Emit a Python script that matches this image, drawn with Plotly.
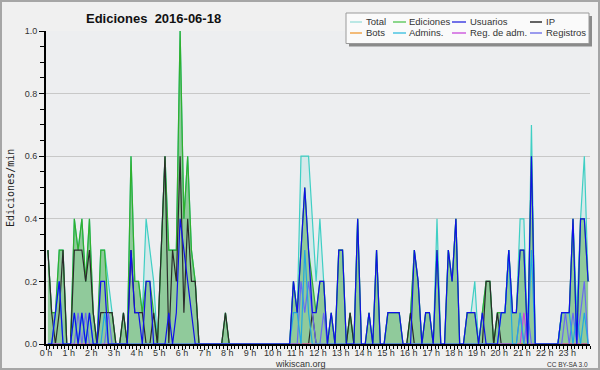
import plotly.graph_objects as go

# ---- data: edits per minute, 10-minute bins (6 per hour, 144 bins) ----
hour_labels = [f"{h} h" for h in range(24)]

total = [
    0.3, 0.1, 0.1, 0.3, 0.3, 0.0,   # 0 h
    0.0, 0.4, 0.3, 0.4, 0.2, 0.4,   # 1 h
    0.1, 0.0, 0.3, 0.3, 0.2, 0.1,   # 2 h
    0.0, 0.0, 0.1, 0.0, 0.6, 0.2,   # 3 h
    0.2, 0.1, 0.4, 0.3, 0.2, 0.0,   # 4 h
    0.3, 0.6, 0.3, 0.3, 0.3, 1.0,   # 5 h
    0.4, 0.6, 0.3, 0.2, 0.0, 0.0,   # 6 h
    0.0, 0.0, 0.0, 0.0, 0.0, 0.1,   # 7 h
    0.0, 0.0, 0.0, 0.0, 0.0, 0.0,   # 8 h
    0.0, 0.0, 0.0, 0.0, 0.0, 0.0,   # 9 h
    0.0, 0.0, 0.0, 0.0, 0.0, 0.2,   # 10 h
    0.1, 0.6, 0.6, 0.6, 0.4, 0.2,   # 11 h
    0.4, 0.2, 0.0, 0.1, 0.0, 0.3,   # 12 h
    0.3, 0.0, 0.1, 0.0, 0.4, 0.0,   # 13 h
    0.0, 0.1, 0.0, 0.3, 0.0, 0.0,   # 14 h
    0.1, 0.1, 0.1, 0.1, 0.0, 0.0,   # 15 h
    0.1, 0.3, 0.2, 0.0, 0.1, 0.1,   # 16 h
    0.0, 0.4, 0.0, 0.0, 0.3, 0.2,   # 17 h
    0.4, 0.0, 0.0, 0.1, 0.1, 0.2,   # 18 h
    0.0, 0.1, 0.2, 0.2, 0.0, 0.1,   # 19 h
    0.1, 0.1, 0.3, 0.1, 0.1, 0.4,   # 20 h
    0.4, 0.0, 0.7, 0.0, 0.0, 0.0,   # 21 h
    0.0, 0.0, 0.0, 0.0, 0.1, 0.1,   # 22 h
    0.1, 0.4, 0.1, 0.4, 0.6, 0.2,   # 23 h
]

ediciones = [
    0.3, 0.1, 0.1, 0.3, 0.3, 0.0,
    0.0, 0.4, 0.3, 0.4, 0.2, 0.4,
    0.1, 0.0, 0.3, 0.3, 0.1, 0.1,
    0.0, 0.0, 0.1, 0.0, 0.6, 0.2,
    0.2, 0.1, 0.2, 0.2, 0.1, 0.0,
    0.3, 0.6, 0.3, 0.3, 0.3, 1.0,
    0.4, 0.6, 0.3, 0.2, 0.0, 0.0,
    0.0, 0.0, 0.0, 0.0, 0.0, 0.1,
    0.0, 0.0, 0.0, 0.0, 0.0, 0.0,
    0.0, 0.0, 0.0, 0.0, 0.0, 0.0,
    0.0, 0.0, 0.0, 0.0, 0.0, 0.2,
    0.1, 0.3, 0.5, 0.3, 0.2, 0.1,
    0.2, 0.2, 0.0, 0.1, 0.0, 0.3,
    0.3, 0.0, 0.1, 0.0, 0.4, 0.0,
    0.0, 0.1, 0.0, 0.3, 0.0, 0.0,
    0.1, 0.1, 0.1, 0.1, 0.0, 0.0,
    0.1, 0.3, 0.2, 0.0, 0.1, 0.1,
    0.0, 0.3, 0.0, 0.0, 0.3, 0.2,
    0.4, 0.0, 0.0, 0.1, 0.1, 0.1,
    0.0, 0.1, 0.2, 0.2, 0.0, 0.1,
    0.1, 0.1, 0.3, 0.1, 0.1, 0.3,
    0.3, 0.0, 0.6, 0.0, 0.0, 0.0,
    0.0, 0.0, 0.0, 0.0, 0.1, 0.1,
    0.1, 0.4, 0.0, 0.4, 0.4, 0.2,
]

usuarios = [
    0.0, 0.0, 0.1, 0.2, 0.0, 0.0,
    0.0, 0.1, 0.0, 0.1, 0.0, 0.1,
    0.0, 0.0, 0.2, 0.2, 0.0, 0.0,
    0.0, 0.0, 0.0, 0.0, 0.3, 0.1,
    0.1, 0.0, 0.2, 0.2, 0.0, 0.0,
    0.0, 0.0, 0.1, 0.0, 0.1, 0.4,
    0.3, 0.2, 0.1, 0.0, 0.0, 0.0,
    0.0, 0.0, 0.0, 0.0, 0.0, 0.0,
    0.0, 0.0, 0.0, 0.0, 0.0, 0.0,
    0.0, 0.0, 0.0, 0.0, 0.0, 0.0,
    0.0, 0.0, 0.0, 0.0, 0.0, 0.2,
    0.1, 0.3, 0.5, 0.3, 0.1, 0.1,
    0.2, 0.2, 0.0, 0.1, 0.0, 0.3,
    0.3, 0.0, 0.0, 0.0, 0.4, 0.0,
    0.0, 0.1, 0.0, 0.3, 0.0, 0.0,
    0.1, 0.1, 0.1, 0.1, 0.0, 0.0,
    0.0, 0.3, 0.2, 0.0, 0.1, 0.1,
    0.0, 0.3, 0.0, 0.0, 0.3, 0.2,
    0.4, 0.0, 0.0, 0.1, 0.1, 0.1,
    0.0, 0.1, 0.0, 0.0, 0.0, 0.0,
    0.1, 0.1, 0.3, 0.1, 0.1, 0.3,
    0.3, 0.0, 0.6, 0.0, 0.0, 0.0,
    0.0, 0.0, 0.0, 0.0, 0.1, 0.1,
    0.1, 0.4, 0.0, 0.4, 0.4, 0.2,
]

ip = [
    0.3, 0.1, 0.0, 0.1, 0.3, 0.0,
    0.0, 0.3, 0.3, 0.3, 0.2, 0.3,
    0.1, 0.0, 0.1, 0.1, 0.1, 0.1,
    0.0, 0.0, 0.1, 0.0, 0.3, 0.1,
    0.1, 0.1, 0.0, 0.0, 0.1, 0.0,
    0.3, 0.6, 0.0, 0.3, 0.2, 0.6,
    0.1, 0.4, 0.2, 0.2, 0.0, 0.0,
    0.0, 0.0, 0.0, 0.0, 0.0, 0.1,
    0.0, 0.0, 0.0, 0.0, 0.0, 0.0,
    0.0, 0.0, 0.0, 0.0, 0.0, 0.0,
    0.0, 0.0, 0.0, 0.0, 0.0, 0.0,
    0.0, 0.0, 0.0, 0.0, 0.1, 0.0,
    0.0, 0.0, 0.0, 0.0, 0.0, 0.0,
    0.0, 0.0, 0.1, 0.0, 0.0, 0.0,
    0.0, 0.0, 0.0, 0.0, 0.0, 0.0,
    0.0, 0.0, 0.0, 0.0, 0.0, 0.0,
    0.1, 0.0, 0.0, 0.0, 0.0, 0.0,
    0.0, 0.0, 0.0, 0.0, 0.0, 0.0,
    0.0, 0.0, 0.0, 0.0, 0.0, 0.0,
    0.0, 0.0, 0.2, 0.2, 0.0, 0.1,
    0.0, 0.0, 0.0, 0.0, 0.0, 0.0,
    0.0, 0.0, 0.0, 0.0, 0.0, 0.0,
    0.0, 0.0, 0.0, 0.0, 0.0, 0.0,
    0.0, 0.0, 0.0, 0.0, 0.0, 0.0,
]

admins = [
    0.0, 0.0, 0.1, 0.2, 0.0, 0.0,
    0.0, 0.1, 0.0, 0.1, 0.0, 0.1,
    0.0, 0.0, 0.0, 0.1, 0.0, 0.0,
    0.0, 0.0, 0.0, 0.0, 0.0, 0.0,
    0.0, 0.0, 0.0, 0.0, 0.0, 0.0,
    0.0, 0.0, 0.0, 0.0, 0.0, 0.0,
    0.0, 0.0, 0.0, 0.0, 0.0, 0.0,
    0.0, 0.0, 0.0, 0.0, 0.0, 0.0,
    0.0, 0.0, 0.0, 0.0, 0.0, 0.0,
    0.0, 0.0, 0.0, 0.0, 0.0, 0.0,
    0.0, 0.0, 0.0, 0.0, 0.0, 0.1,
    0.1, 0.0, 0.3, 0.1, 0.0, 0.0,
    0.0, 0.0, 0.0, 0.0, 0.0, 0.0,
    0.0, 0.0, 0.0, 0.0, 0.0, 0.0,
    0.0, 0.0, 0.0, 0.0, 0.0, 0.0,
    0.0, 0.0, 0.0, 0.0, 0.0, 0.0,
    0.0, 0.0, 0.0, 0.0, 0.0, 0.0,
    0.0, 0.0, 0.0, 0.0, 0.0, 0.0,
    0.0, 0.0, 0.0, 0.0, 0.0, 0.0,
    0.0, 0.0, 0.0, 0.0, 0.0, 0.0,
    0.1, 0.1, 0.3, 0.0, 0.0, 0.1,
    0.0, 0.0, 0.3, 0.0, 0.0, 0.0,
    0.0, 0.0, 0.0, 0.0, 0.1, 0.1,
    0.1, 0.0, 0.1, 0.0, 0.1, 0.0,
]

registros = [
    0.0, 0.0, 0.0, 0.0, 0.0, 0.0,
    0.0, 0.0, 0.1, 0.0, 0.1, 0.0,
    0.0, 0.0, 0.0, 0.0, 0.1, 0.0,
    0.0, 0.0, 0.0, 0.0, 0.0, 0.0,
    0.0, 0.0, 0.0, 0.0, 0.0, 0.0,
    0.0, 0.0, 0.0, 0.0, 0.0, 0.0,
    0.0, 0.0, 0.0, 0.0, 0.0, 0.0,
    0.0, 0.0, 0.0, 0.0, 0.0, 0.0,
    0.0, 0.0, 0.0, 0.0, 0.0, 0.0,
    0.0, 0.0, 0.0, 0.0, 0.0, 0.0,
    0.0, 0.0, 0.0, 0.0, 0.0, 0.0,
    0.0, 0.2, 0.1, 0.2, 0.1, 0.0,
    0.0, 0.1, 0.0, 0.0, 0.0, 0.0,
    0.0, 0.0, 0.0, 0.0, 0.0, 0.0,
    0.0, 0.0, 0.0, 0.0, 0.0, 0.0,
    0.0, 0.0, 0.0, 0.0, 0.0, 0.0,
    0.0, 0.0, 0.0, 0.0, 0.0, 0.0,
    0.0, 0.0, 0.0, 0.0, 0.0, 0.0,
    0.0, 0.0, 0.0, 0.0, 0.0, 0.0,
    0.0, 0.0, 0.0, 0.0, 0.0, 0.0,
    0.0, 0.0, 0.0, 0.0, 0.0, 0.1,
    0.0, 0.1, 0.0, 0.0, 0.0, 0.0,
    0.0, 0.0, 0.0, 0.0, 0.0, 0.1,
    0.0, 0.1, 0.0, 0.1, 0.2, 0.0,
]

reg_adm = [0.0] * 126 + [0.1] + [0.0] * 17
bots = [0.0] * 144

# bin centres in hours
xs = [(i + 0.5) / 6 for i in range(len(total))]

# ---- geometry helpers (pixel -> paper) ----
W, H = 600, 370
ML, MR, MT, MB = 46, 10, 31, 26
PW, PH = W - ML - MR, H - MT - MB


def px(x):
    return (x - ML) / PW


def py(y):
    return (H - MB - y) / PH


fig = go.Figure()

common = dict(mode="lines", hoverinfo="skip", showlegend=False)
fig.add_trace(go.Scatter(x=xs, y=total, fill="tozeroy", fillcolor="rgba(70,205,195,0.14)",
                         line=dict(color="#3fcfc4", width=1.2), **common))
fig.add_trace(go.Scatter(x=xs, y=ediciones, fill="tozeroy", fillcolor="rgba(60,165,60,0.45)",
                         line=dict(color="#2fb02f", width=1.2), **common))
fig.add_trace(go.Scatter(x=xs, y=ip, line=dict(color="#2b2b2b", width=1.2), **common))
fig.add_trace(go.Scatter(x=xs, y=bots, line=dict(color="#f0a040", width=1.2), **common))
fig.add_trace(go.Scatter(x=xs, y=reg_adm, line=dict(color="#cc44dd", width=1.2), **common))
fig.add_trace(go.Scatter(x=xs, y=registros, line=dict(color="#6a6af0", width=1.2), **common))
fig.add_trace(go.Scatter(x=xs, y=admins, line=dict(color="#22a8e0", width=1.2), **common))
fig.add_trace(go.Scatter(x=xs, y=usuarios, line=dict(color="#1010e8", width=1.2), **common))

FONT = "Liberation Sans, Arial, sans-serif"

fig.update_layout(
    width=W, height=H,
    margin=dict(l=ML, r=MR, t=MT, b=MB, pad=0),
    paper_bgcolor="#f0f0f0",
    plot_bgcolor="#edeef0",
    font=dict(family=FONT, size=9, color="#333333"),
    showlegend=False,
    xaxis=dict(
        range=[0, 24],
        tickmode="array",
        tickvals=list(range(24)),
        ticktext=hour_labels,
        ticks="outside", ticklen=4, tickwidth=1, tickcolor="#000",
        ticklabelstandoff=-5,
        minor=dict(dtick=1 / 6, tick0=0, ticks="outside", ticklen=3, tickcolor="#000", showgrid=False),
        showline=True, linecolor="#000", linewidth=2,
        showgrid=False, zeroline=False,
        tickfont=dict(family=FONT, size=9, color="#333"),
        fixedrange=True,
    ),
    yaxis=dict(
        range=[0, 1.0],
        tickmode="array",
        tickvals=[0, 0.2, 0.4, 0.6, 0.8, 1.0],
        ticktext=["0.0", "0.2", "0.4", "0.6", "0.8", "1.0"],
        ticks="outside", ticklen=5, tickwidth=1, tickcolor="#000",
        minor=dict(dtick=0.05, tick0=0, ticks="outside", ticklen=4, tickcolor="#000", showgrid=False),
        showline=True, linecolor="#000", linewidth=2,
        showgrid=True, gridcolor="#c8c8c8", gridwidth=1,
        zeroline=False,
        tickfont=dict(family=FONT, size=9, color="#333"),
        fixedrange=True,
    ),
)

shapes = []
annotations = []

# outer border of the image
shapes.append(dict(type="rect", xref="paper", yref="paper",
                   x0=px(1), x1=px(W - 1), y0=py(H - 1), y1=py(1),
                   line=dict(color="#a6a6a6", width=2), fillcolor="rgba(0,0,0,0)", layer="above"))

# title
annotations.append(dict(text="<b>Ediciones  2016-06-18</b>", xref="paper", yref="paper",
                        x=px(153), y=py(18), xanchor="center", yanchor="middle", showarrow=False,
                        font=dict(family=FONT, size=13, color="#111")))

# y axis title
annotations.append(dict(text="Ediciones/min", xref="paper", yref="paper",
                        x=px(10), y=py(188), xanchor="center", yanchor="middle", showarrow=False,
                        textangle=-90, font=dict(family="DejaVu Sans Mono, monospace", size=10, color="#222")))

# footer
annotations.append(dict(text="wikiscan.org", xref="paper", yref="paper",
                        x=px(300), y=py(363.5), xanchor="center", yanchor="middle", showarrow=False,
                        borderpad=0, font=dict(family=FONT, size=9, color="#333")))
annotations.append(dict(text="CC BY-SA 3.0", xref="paper", yref="paper",
                        x=px(589), y=py(364), xanchor="right", yanchor="middle", showarrow=False,
                        borderpad=0, font=dict(family=FONT, size=6.5, color="#333")))

# legend box (shadow + box)
shapes.append(dict(type="rect", xref="paper", yref="paper",
                   x0=px(349), x1=px(592), y0=py(46.5), y1=py(16),
                   line=dict(width=0), fillcolor="#8a8a8a", layer="above"))
shapes.append(dict(type="rect", xref="paper", yref="paper",
                   x0=px(346), x1=px(589), y0=py(43.5), y1=py(13),
                   line=dict(color="#9a9a9a", width=1), fillcolor="#fafafa", layer="above"))

legend_names = ["Total", "Ediciones", "Usuarios", "IP", "Bots", "Admins.", "Reg. de adm.", "Registros"]
legend_colors = ["#9fe0dc", "#5cc85c", "#3535e0", "#222222", "#f0a040", "#40c0e0", "#cc55dd", "#7272e8"]
col_sw = [(350, 362), (393, 406), (452, 466), (530, 542)]
col_tx = [365, 408, 469, 545]
row_y = [22, 33]
for k, (name, color) in enumerate(zip(legend_names, legend_colors)):
    r, c = divmod(k, 4)
    yy = row_y[r]
    shapes.append(dict(type="line", xref="paper", yref="paper",
                       x0=px(col_sw[c][0]), x1=px(col_sw[c][1]), y0=py(yy), y1=py(yy),
                       line=dict(color=color, width=1.4), layer="above"))
    annotations.append(dict(text=name, xref="paper", yref="paper",
                            x=px(col_tx[c]), y=py(yy), xanchor="left", yanchor="middle",
                            showarrow=False, borderpad=0,
                            font=dict(family=FONT, size=9.5, color="#333")))

fig.update_layout(shapes=shapes, annotations=annotations)

fig.write_html("out.html")
